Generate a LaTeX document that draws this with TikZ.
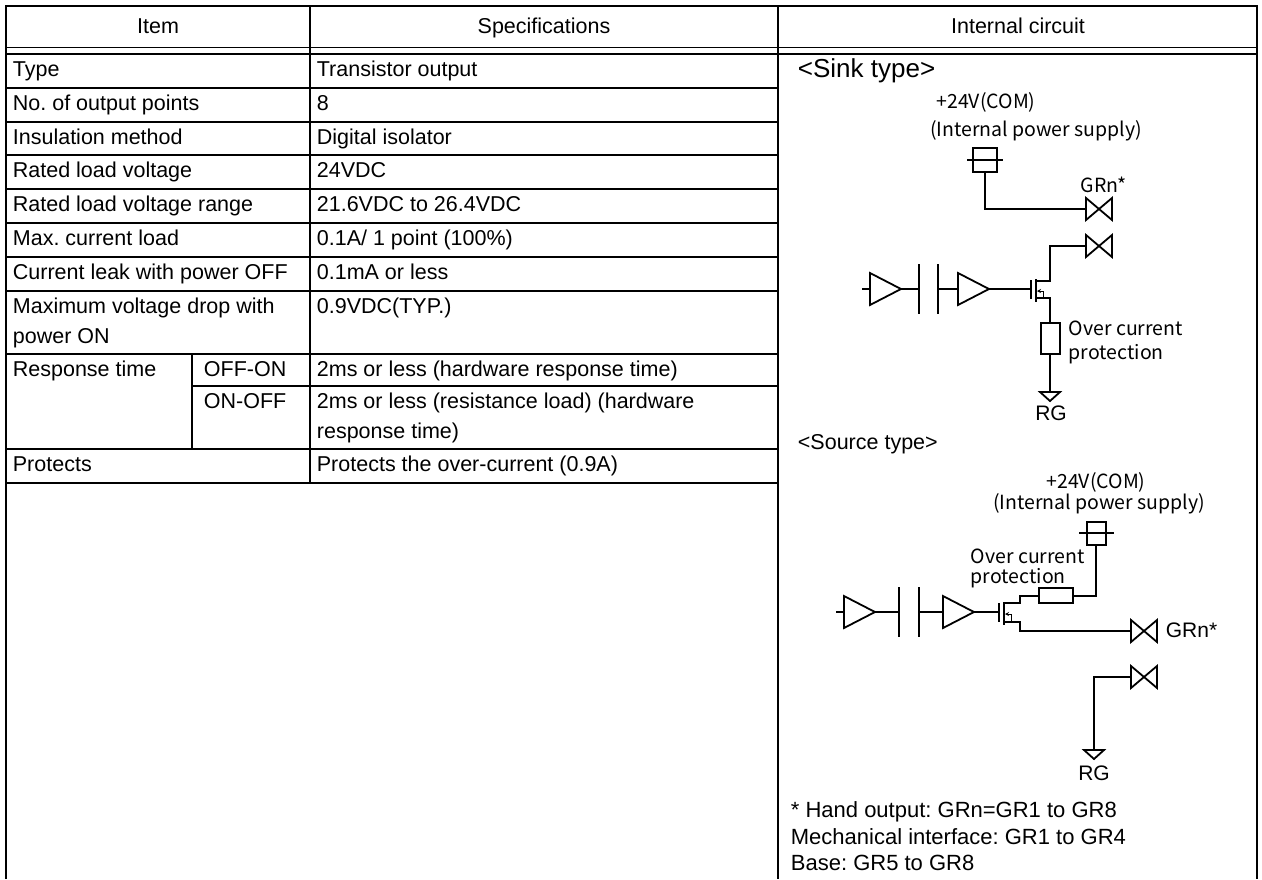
\documentclass[tikz,border=0pt]{standalone}
\usepackage{fontspec}
\setmainfont{Liberation Sans}
\newfontfamily\jpfont{Noto Sans CJK JP}
\usetikzlibrary{arrows.meta}
\frenchspacing
\tikzset{
  cell/.style={anchor=base west,inner sep=0pt,font=\fontsize{21.5}{25}\selectfont},
  head/.style={anchor=base,inner sep=0pt,font=\fontsize{21.5}{25}\selectfont},
  jp/.style={inner sep=0pt,font=\jpfont\fontsize{19.5}{22}\selectfont},
  lbl/.style={inner sep=0pt,font=\fontsize{21}{24}\selectfont},
  bowtie/.pic={\draw (-13,-11) -- (13,11) -- (13,-11) -- (-13,11) -- cycle;},
  gnd/.pic={\draw (-10,0) -- (10,0) -- (0,9) -- cycle;},
  buf/.pic={\draw (0,-16) -- (0,16) -- (31,0) -- cycle;}
}
\begin{document}
\begin{tikzpicture}[x=1pt,y=-1pt,line width=1.8pt]
\useasboundingbox (0,0) rectangle (1262,879);
% table
\draw (6,879) -- (6,6) -- (1257,6) -- (1257,879);
\draw (6,47.5) -- (1257,47.5) (6,54) -- (1257,54);
\draw (310,6) -- (310,483) (778,6) -- (778,879) (192,354) -- (192,449);
\foreach \y in {88,122,155,189,223,257,291,354,449,483} \draw (6,\y) -- (778,\y);
\draw (192,386) -- (778,386);
\node[head] (hitem) at (158,33) {Item};
\node[head] (hspec) at (544,33) {Specifications};
\node[head] (hcirc) at (1018,33) {Internal circuit};
\node[cell] (i1) at (12,76) {Type};
\node[cell] (s1) at (316,76) {Transistor output};
\node[cell] (i2) at (12,110) {No. of output points};
\node[cell] (s2) at (316,110) {8};
\node[cell] (i3) at (12,144) {Insulation method};
\node[cell] (s3) at (316,144) {Digital isolator};
\node[cell] (i4) at (12,177) {Rated load voltage};
\node[cell] (s4) at (316,177) {24VDC};
\node[cell] (i5) at (12,211) {Rated load voltage range};
\node[cell] (s5) at (316,211) {21.6VDC to 26.4VDC};
\node[cell] (i6) at (12,245) {Max. current load};
\node[cell] (s6) at (316,245) {0.1A/ 1 point (100\%)};
\node[cell] (i7) at (12,279) {Current leak with power OFF};
\node[cell] (s7) at (316,279) {0.1mA or less};
\node[cell] (i8) at (12,313) {Maximum voltage drop with};
\node[cell] (i8b) at (12,343) {power ON};
\node[cell] (s8) at (316,313) {0.9VDC(TYP.)};
\node[cell] (i9) at (12,376) {Response time};
\node[cell] (i9a) at (203,376) {OFF-ON};
\node[cell] (s9a) at (316,376) {2ms or less (hardware response time)};
\node[cell] (i9b) at (203,408) {ON-OFF};
\node[cell] (s9b) at (316,408) {2ms or less (resistance load) (hardware};
\node[cell] (s9c) at (316,438) {response time)};
\node[cell] (i10) at (12,471) {Protects};
\node[cell] (s10) at (316,471) {Protects the over-current (0.9A)};
% sink type
\node[cell,font=\fontsize{26}{30}\selectfont] (sink) at (797,77) {<Sink type>};
\node[jp] (kcom) at (986,102) {+24V(COM)};
\node[jp] (kips) at (1036,131) {(Internal power supply)};
\draw (973,148) rectangle (997,172) (967,160) -- (1003,160);
\coordinate (kp) at (985,172);
\pic at (1099,209) {bowtie};
\pic at (1099,246) {bowtie};
\node[jp] (kgrn) at (1104,185) {GRn*};
\draw (kp) |- (1086,209);
\draw (1086,246) -| (1050,281) -- (1036,281);
\draw (1036,298) -| (1050,323);
\draw (1041,323) rectangle (1060,354);
\draw (1050,354) -- (1050,392);
\pic at (1050,392) {gnd};
\node[lbl] (krg) at (1051,413) {RG};
\node[jp,anchor=west] (koc) at (1068,328) {Over current};
\node[jp,anchor=west] (kpr) at (1068,354) {protection};
% source type
\node[cell] (src) at (797,449) {<Source type>};
\node[jp] (ucom) at (1096,482) {+24V(COM)};
\node[jp] (uips) at (1099,504) {(Internal power supply)};
\draw (1087,522) rectangle (1106,545) (1079,533) -- (1114,533);
\coordinate (up) at (1096,545);
\draw (up) |- (1073,596);
\draw (1039,588) rectangle (1073,603);
\draw (1039,596) -| (1020,603) -- (1004,603);
\draw (1004,622) -| (1020,631) -- (1130,631);
\pic at (1144,631) {bowtie};
\pic at (1144,677) {bowtie};
\node[lbl,anchor=west] (ugrn) at (1165,630) {GRn*};
\draw (1130,677) -| (1094,750);
\pic at (1094,750) {gnd};
\node[lbl] (urg) at (1094,773) {RG};
\node[jp,anchor=west] (uoc) at (970,556) {Over current};
\node[jp,anchor=west] (upr) at (970,578) {protection};
% buffers, isolator and output transistor
\foreach \x/\y/\p/\q/\t/\g in {870/289/919/938/958/1031, 844/612/899/919/943/999}{
  \draw (\x-8,\y) -- (\x,\y);
  \pic at (\x,\y) {buf};
  \draw (\x+31,\y) -- (\p,\y) (\p,\y-25) -- (\p,\y+25);
  \draw (\q,\y-25) -- (\q,\y+25) (\q,\y) -- (\t,\y);
  \pic at (\t,\y) {buf};
  \draw (\t+31,\y) -- (\g,\y) (\g,\y-9) -- (\g,\y+10);
  \draw (\g+5,\y-10) -- (\g+5,\y+13);
  \draw[line width=1pt,-{Stealth[length=4pt,width=4pt]}] (\g+12,\y+10) |- (\g+6,\y+2);
}
% notes
\node[cell,font=\fontsize{22}{26}\selectfont] (n1) at (790,817) {* Hand output: GRn=GR1 to GR8};
\node[cell,font=\fontsize{22}{26}\selectfont] (n2) at (790,844) {Mechanical interface: GR1 to GR4};
\node[cell,font=\fontsize{22}{26}\selectfont] (n3) at (790,870) {Base: GR5 to GR8};
\end{tikzpicture}
\end{document}
